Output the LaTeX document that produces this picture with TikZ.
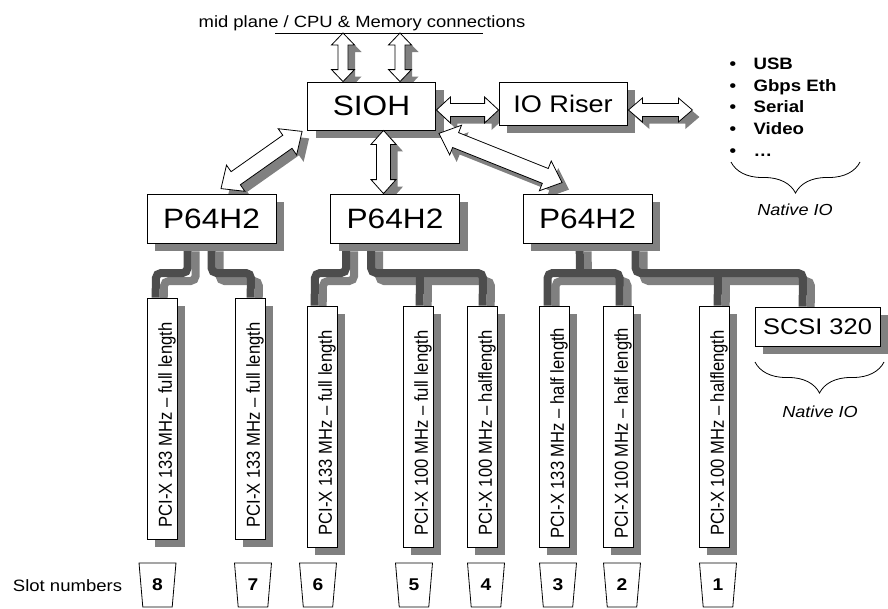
\documentclass[tikz,border=0pt]{standalone}
\usepackage{fontspec}
\setmainfont{Liberation Sans}
\usepackage{graphicx}
\usetikzlibrary{calc,shadows,shapes.geometric,decorations.pathreplacing}
\definecolor{shgray}{RGB}{128,128,128}
\definecolor{busdark}{RGB}{77,77,77}
\newcommand\hs[1]{\scalebox{1.13}[1]{#1}}
\newcommand\fs[1]{\fontsize{#1}{#1}\selectfont}
\newcommand\cardtext[1]{\hs{\rotatebox{90}{\makebox[0pt]{\hspace*{-13pt}\smash{\raisebox{-2.7pt}{\raisebox{-0.36em}{#1}}}}}}}
\pgfdeclarelayer{bg}
\pgfsetlayers{bg,main}
\newcommand\bapath[4]{(#1) -- ($(ha)!#4!90:(#2)$) -- ($(ha)!#3!90:(#2)$) -- ($(hb)!#3!-90:(#1)$) -- ($(hb)!#4!-90:(#1)$) -- (#2) -- ($(hb)!#4!90:(#1)$) -- ($(hb)!#3!90:(#1)$) -- ($(ha)!#3!-90:(#2)$) -- ($(ha)!#4!-90:(#2)$) -- cycle}
\newcommand\blockarrow[5]{%
  \coordinate (ha) at ($(#1)!#3!(#2)$);
  \coordinate (hb) at ($(#2)!#3!(#1)$);
  \begin{pgfonlayer}{bg}
  \begin{scope}[transform canvas={shift={(7pt,-7pt)}}]
  \fill[shgray] \bapath{#1}{#2}{#4}{#5};
  \end{scope}
  \end{pgfonlayer}
  \filldraw[fill=white, draw=black, line width=0.8pt, line join=miter] \bapath{#1}{#2}{#4}{#5};
}
\newcommand\buses[1]{%
  \draw[#1] ($(pa.south west)+(41,0)$) |- (156,273) -- ($(c8.north west)+(9,0)$);
  \draw[#1] ($(pa.south west)+(65,0)$) |- (251,273) -- ($(c7.north west)+(16,0)$);
  \draw[#1] ($(pb.south west)+(16,0)$) |- (315,273) -- ($(c6.north west)+(8,0)$);
  \draw[#1] ($(pb.south west)+(41,0)$) |- (483,273) -- ($(c4.north west)+(16,0)$);
  \draw[#1] (420,273) -- ($(c5.north west)+(17,0)$);
  \draw[#1] ($(c3.north west)+(9,0)$) |- (580,273) -| ($(c2.north west)+(17,0)$);
  \draw[#1] ($(pc.south west)+(57,0)$) -- (580,273);
  \draw[#1] ($(pc.south west)+(113,0)$) |- (803,273) -- ($(scsi.north west)+(48,0)$);
  \draw[#1] (718,273) -- ($(c1.north west)+(19,0)$);
}
\tikzset{
  box/.style={draw=black, line width=0.8pt, fill=white, inner sep=0pt,
    drop shadow={shadow xshift=8pt, shadow yshift=-8pt, fill=shgray, opacity=1}},
  chip/.style={box, minimum width=129pt, minimum height=49pt, font=\fs{28}},
  card/.style={box, minimum width=30pt, minimum height=241pt, font=\fs{16.6}},
  slot/.style={draw=black, line width=0.8pt, fill=white, trapezium, trapezium stretches=true,
    trapezium left angle=83.5, trapezium right angle=83.5, shape border rotate=180,
    minimum width=37pt, minimum height=44pt, inner sep=0pt, font=\bfseries\fs{17}},
  bus/.style={line width=8pt, rounded corners=5pt, busdark},
  busshadow/.style={line width=8pt, rounded corners=5pt, shgray},
  brc/.style={draw=black, line width=0.8pt, decorate, decoration={brace, amplitude=31pt, mirror}},
}
\begin{document}
\begin{tikzpicture}[x=1pt, y=-1pt]
\useasboundingbox (0,0) rectangle (888,608);
% title and mid plane line
\node[anchor=base, font=\fs{16.3}] (title) at (362,27) {\hs{mid plane / CPU \& Memory connections}};
\coordinate (ml) at (275,33);
\coordinate (mr) at (483,33);
\draw[line width=0.8pt] (ml) -- (mr);
% chips
\node[box, minimum width=128pt, minimum height=48pt, font=\fs{28}] (sioh) at (371.5,106) {\hs{SIOH}};
\node[box, minimum width=128pt, minimum height=43pt, font=\fs{24}] (riser) at (563,103.5) {\hs{IO Riser}};
\node[chip] (pa) at (211.5,218.5) {\hs{P64H2}};
\node[chip] (pb) at (395,218.5) {\hs{P64H2}};
\node[chip] (pc) at (587.5,218.5) {\hs{P64H2}};
% cards
\node[card] (c8) at (162,418.5) {\cardtext{PCI-X 133 MHz – full length}};
\node[card] (c7) at (250,418.5) {\cardtext{PCI-X 133 MHz – full length}};
\node[card] (c6) at (322,426.5) {\cardtext{PCI-X 133 MHz – full length}};
\node[card] (c5) at (418,426.5) {\cardtext{PCI-X 100 MHz – full length}};
\node[card] (c4) at (482,426.5) {\cardtext{PCI-X 100 MHz – halflength}};
\node[card] (c3) at (554,426.5) {\cardtext{PCI-X 133 MHz – half length}};
\node[card] (c2) at (618,426.5) {\cardtext{PCI-X 100 MHz – half length}};
\node[card] (c1) at (714,426.5) {\cardtext{PCI-X 100 MHz – halflength}};
\node[box, minimum width=125pt, minimum height=39pt, font=\fs{22.5}] (scsi) at (817.5,326.5) {\hs{SCSI 320}};
% buses
\begin{pgfonlayer}{bg}
\begin{scope}[transform canvas={shift={(8pt,-8pt)}}]
\buses{busshadow}
\end{scope}
\buses{bus}
\end{pgfonlayer}
% native IO list
\node[anchor=west, font=\bfseries\fontsize{16.5}{21.7}\selectfont] (iolist) at (726,108.5)
  {\hs{\begin{tabular}{@{}l@{\hspace{15.5pt}}l@{}}•&USB\\•&Gbps Eth\\•&Serial\\•&Video\\•&…\end{tabular}}};
\coordinate (b1l) at (731,162);
\coordinate (b1r) at (860,162);
\draw[brc] (b1l) -- (b1r);
\node[font=\itshape\fs{16}] (nat1) at (795,210) {\hs{Native IO}};
\coordinate (b2l) at (755,362);
\coordinate (b2r) at (884,362);
\draw[brc] (b2l) -- (b2r);
\node[font=\itshape\fs{16}] (nat2) at (820,412) {\hs{Native IO}};
% slots
\node[font=\fs{16.4}] (slotlbl) at (67.5,586) {\hs{Slot numbers}};
\node[slot] (s8) at (157.5,585) {\hs{8}};
\node[slot] (s7) at (253,585) {\hs{7}};
\node[slot] (s6) at (318,585) {\hs{6}};
\node[slot] (s5) at (414,585) {\hs{5}};
\node[slot] (s4) at (486,585) {\hs{4}};
\node[slot] (s3) at (558,585) {\hs{3}};
\node[slot] (s2) at (622,585) {\hs{2}};
\node[slot] (s1) at (718,585) {\hs{1}};
% block arrows
\coordinate (t1) at ($(ml)+(68,0)$);
\coordinate (t2) at ($(ml)+(125,0)$);
\blockarrow{t1}{t1 |- sioh.north}{12pt}{5pt}{11.5pt}
\blockarrow{t2}{t2 |- sioh.north}{12pt}{5pt}{11.5pt}
\coordinate (hla) at ($(sioh.east)+(0.5,4)$);
\blockarrow{hla}{hla -| riser.west}{14pt}{6.5pt}{13pt}
\coordinate (hra) at ($(riser.east)+(1,6.5)$);
\coordinate (rx) at ($(hra)+(64,0)$);
\blockarrow{hra}{rx}{14pt}{6.5pt}{12pt}
\coordinate (dla) at ($(sioh.south west)+(-5,1)$);
\coordinate (dlb) at ($(pa.north)+(9.5,-5)$);
\blockarrow{dla}{dlb}{18pt}{8pt}{16pt}
\coordinate (dma) at ($(sioh.south)+(12,0)$);
\coordinate (dmb) at ($(pb.north)+(-11.5,0)$);
\blockarrow{dma}{dmb}{14pt}{7pt}{12.5pt}
\coordinate (dra) at ($(sioh.south east)+(3,3)$);
\coordinate (drb) at ($(pc.north)+(-25.5,-11)$);
\blockarrow{dra}{drb}{18pt}{8pt}{16pt}
\end{tikzpicture}
\end{document}
